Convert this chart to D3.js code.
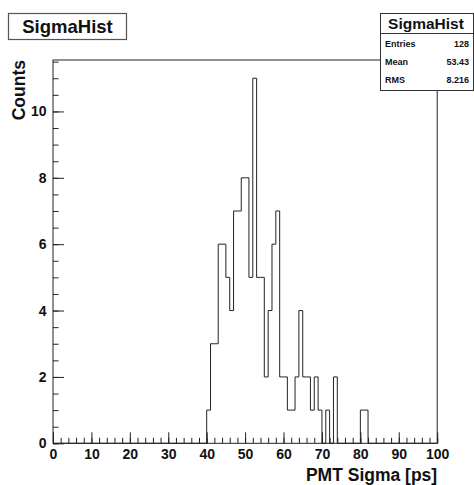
<!DOCTYPE html>
<html>
<head>
<meta charset="utf-8">
<script src="https://cdn.jsdelivr.net/npm/d3@7"></script>
<style>
  html, body { margin: 0; padding: 0; background: #fff; }
  svg { display: block; }
  text { font-family: "Liberation Sans", Arial, Helvetica, sans-serif; font-weight: bold; fill: #111; }
</style>
</head>
<body>
<svg id="chart" width="474" height="485"></svg>
<script>
// Histogram "SigmaHist": 100 bins of width 1 ps between 0 and 100
const histName = "SigmaHist";
const xMin = 0, xMax = 100;
const counts = [
  0, 0, 0, 0, 0, 0, 0, 0, 0, 0,
  0, 0, 0, 0, 0, 0, 0, 0, 0, 0,
  0, 0, 0, 0, 0, 0, 0, 0, 0, 0,
  0, 0, 0, 0, 0, 0, 0, 0, 0, 0,
  1, 3, 3, 6, 6, 5, 4, 7, 7, 8,
  8, 5, 11, 5, 5, 2, 4, 6, 7, 2,
  2, 1, 1, 2, 4, 2, 2, 1, 2, 1,
  0, 1, 0, 2, 0, 0, 0, 0, 0, 0,
  1, 1, 0, 0, 0, 0, 0, 0, 0, 0,
  0, 0, 0, 0, 0, 0, 0, 0, 0, 0
];
const xTickValues = [0, 10, 20, 30, 40, 50, 60, 70, 80, 90, 100];
const yTickValues = [0, 2, 4, 6, 8, 10];
const xTitle = "PMT Sigma [ps]";
const yTitle = "Counts";
const statLabels = ["Entries", "Mean", "RMS"];
const statValues = ["128", "53.43", "8.216"];

const svg = d3.select("#chart");
const frame = { left: 53, right: 437.2, top: 60, bottom: 443.3 };
const binWidth = (xMax - xMin) / counts.length;
const yMax = d3.max(counts) * 1.05;

const x = d3.scaleLinear().domain([xMin, xMax]).range([frame.left, frame.right]);
const y = d3.scaleLinear().domain([0, yMax]).range([frame.bottom, frame.top]);

const lineColor = "#222";

// frame
svg.append("rect")
  .attr("x", frame.left).attr("y", frame.top)
  .attr("width", frame.right - frame.left).attr("height", frame.bottom - frame.top)
  .attr("fill", "none").attr("stroke", lineColor).attr("stroke-width", 1);

// histogram outline as a step path
const pts = [[xMin, 0]];
counts.forEach((c, i) => {
  const lo = xMin + i * binWidth;
  pts.push([lo, c], [lo + binWidth, c]);
});
pts.push([xMax, 0]);
svg.append("path")
  .attr("d", d3.line().x(d => x(d[0])).y(d => y(d[1]))(pts))
  .attr("fill", "none").attr("stroke", lineColor).attr("stroke-width", 1);

// x axis: major ticks with labels, minor ticks every 2
const xMinor = d3.range(xMin, xMax + 0.001, 2);
const gxMinor = svg.append("g").attr("transform", `translate(0,${frame.bottom})`)
  .call(d3.axisBottom(x).tickValues(xMinor).tickSize(-5.5).tickFormat(""));
const gx = svg.append("g").attr("transform", `translate(0,${frame.bottom})`)
  .call(d3.axisBottom(x).tickValues(xTickValues).tickSize(-11).tickPadding(5.5).tickFormat(d3.format("d")));

// y axis: major ticks every 2, minor every 0.5
const yMinor = d3.range(0, yMax, 0.5);
const gyMinor = svg.append("g").attr("transform", `translate(${frame.left},0)`)
  .call(d3.axisLeft(y).tickValues(yMinor).tickSize(-5.5).tickFormat(""));
const gy = svg.append("g").attr("transform", `translate(${frame.left},0)`)
  .call(d3.axisLeft(y).tickValues(yTickValues).tickSize(-11).tickPadding(6.5).tickFormat(d3.format("d")));

[gxMinor, gx, gyMinor, gy].forEach(g => {
  g.select(".domain").remove();
  g.selectAll(".tick line").attr("stroke", lineColor).attr("stroke-width", 1);
});
[gx, gy].forEach(g => {
  g.selectAll(".tick text")
    .attr("font-family", "Liberation Sans, Arial, sans-serif")
    .attr("font-weight", "bold")
    .attr("font-size", 14)
    .attr("fill", "#111");
});

// axis titles
svg.append("text")
  .attr("x", frame.right).attr("y", 481)
  .attr("text-anchor", "end").attr("font-size", 17.5)
  .text(xTitle);
svg.append("text")
  .attr("transform", `translate(25,${frame.top}) rotate(-90)`)
  .attr("text-anchor", "end").attr("font-size", 17.5)
  .text(yTitle);

// title box
svg.append("rect")
  .attr("x", 8.5).attr("y", 13.5).attr("width", 118).attr("height", 26)
  .attr("fill", "#fff").attr("stroke", "#555").attr("stroke-width", 1.2);
svg.append("text")
  .attr("x", 67.5).attr("y", 33)
  .attr("text-anchor", "middle").attr("font-size", 18.5)
  .text(histName);

// statistics box
const sb = { x: 380.5, y: 13.5, w: 93, h: 77 };
svg.append("rect")
  .attr("x", sb.x).attr("y", sb.y).attr("width", sb.w).attr("height", sb.h)
  .attr("fill", "#fff").attr("stroke", "#333").attr("stroke-width", 1);
svg.append("line")
  .attr("x1", sb.x).attr("x2", sb.x + sb.w).attr("y1", 33.5).attr("y2", 33.5)
  .attr("stroke", "#333").attr("stroke-width", 1);
svg.append("text")
  .attr("x", 426).attr("y", 29)
  .attr("text-anchor", "middle").attr("font-size", 15.5)
  .text(histName);
const rowY = d3.scalePoint().domain(statLabels).range([46.5, 82.5]);
statLabels.forEach((lab, i) => {
  svg.append("text").attr("x", 385).attr("y", rowY(lab))
    .attr("font-size", 9).text(lab);
  svg.append("text").attr("x", 469).attr("y", rowY(lab))
    .attr("text-anchor", "end").attr("font-size", 9).text(statValues[i]);
});
</script>
</body>
</html>
